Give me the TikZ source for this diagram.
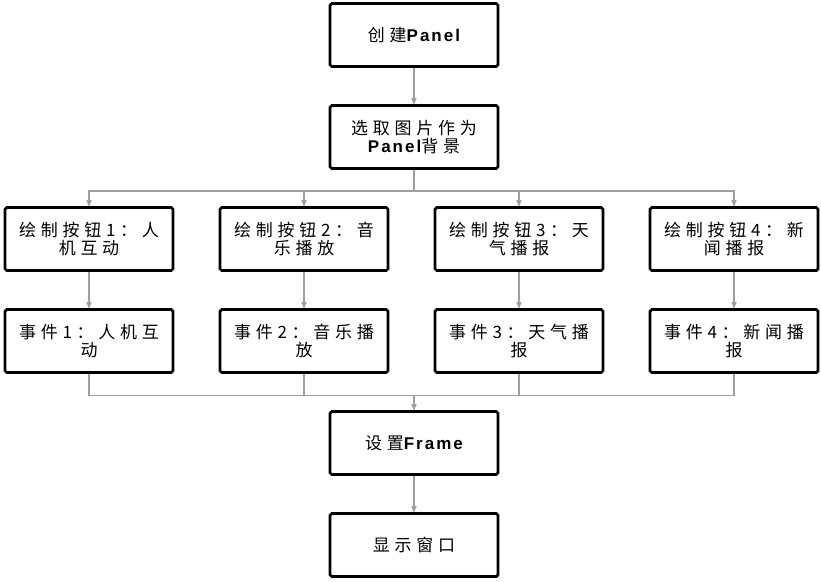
\documentclass[tikz,border=0pt]{standalone}
\usepackage{fontspec}
\setmainfont{Noto Sans CJK SC}[LetterSpace=28]
\newfontfamily\en{Liberation Sans}[LetterSpace=12,BoldFont={Liberation Sans Bold}]
\newcommand{\lat}[1]{{\en\bfseries #1}}
\usetikzlibrary{arrows}

\begin{document}
\begin{tikzpicture}[->,>=stealth',node distance=3.06cm,
  main node/.style={draw,line width=2.4pt,rounded corners=1.5pt,minimum width=5.04cm,
    minimum height=1.89cm,inner sep=1pt,align=center,font=\fontsize{14.5}{16}\selectfont},
  flow/.style={draw=gray!75,line width=0.9pt}]
  \useasboundingbox (0,0) rectangle (24.63,-17.43);
  \node[main node] (create) at (12.42,-1.05){创建\lat{Panel}};
  \node[main node] (bg)[below of=create]{选取图片作为\\\lat{Panel}背景};
  \node[main node] (btn2)[below of=bg,xshift=-3.3cm]{绘制按钮2：音\\乐播放};
  \node[main node] (btn1)[left of=btn2,node distance=6.45cm]{绘制按钮1：人\\机互动};
  \node[main node] (btn3)[right of=btn2,node distance=6.45cm]{绘制按钮3：天\\气播报};
  \node[main node] (btn4)[right of=btn3,node distance=6.45cm]{绘制按钮4：新\\闻播报};
  \node[main node] (ev1)[below of=btn1]{事件1：人机互\\动};
  \node[main node] (ev2)[below of=btn2]{事件2：音乐播\\放};
  \node[main node] (ev3)[below of=btn3]{事件3：天气播\\报};
  \node[main node] (ev4)[below of=btn4]{事件4：新闻播\\报};
  \node[main node] (frame)[below of=bg,node distance=9.18cm]{设置\lat{Frame}};
  \node[main node] (show)[below of=frame]{显示窗口};
  \coordinate[below of=bg,node distance=1.62cm] (split);
  \coordinate[above of=frame,node distance=1.43cm] (merge);
  % connectors
  \draw[flow] (create) -- (bg);
  \draw[flow,-] (bg) -- (split);
  \foreach \b in {btn1,btn2,btn3,btn4}
    \draw[flow] (split) -| (\b);
  \foreach \i in {1,...,4}{
    \draw[flow] (btn\i) -- (ev\i);
    \draw[flow,-] (ev\i) |- (merge);
  }
  \draw[flow] (merge) -- (frame);
  \draw[flow] (frame) -- (show);
\end{tikzpicture}
\end{document}
